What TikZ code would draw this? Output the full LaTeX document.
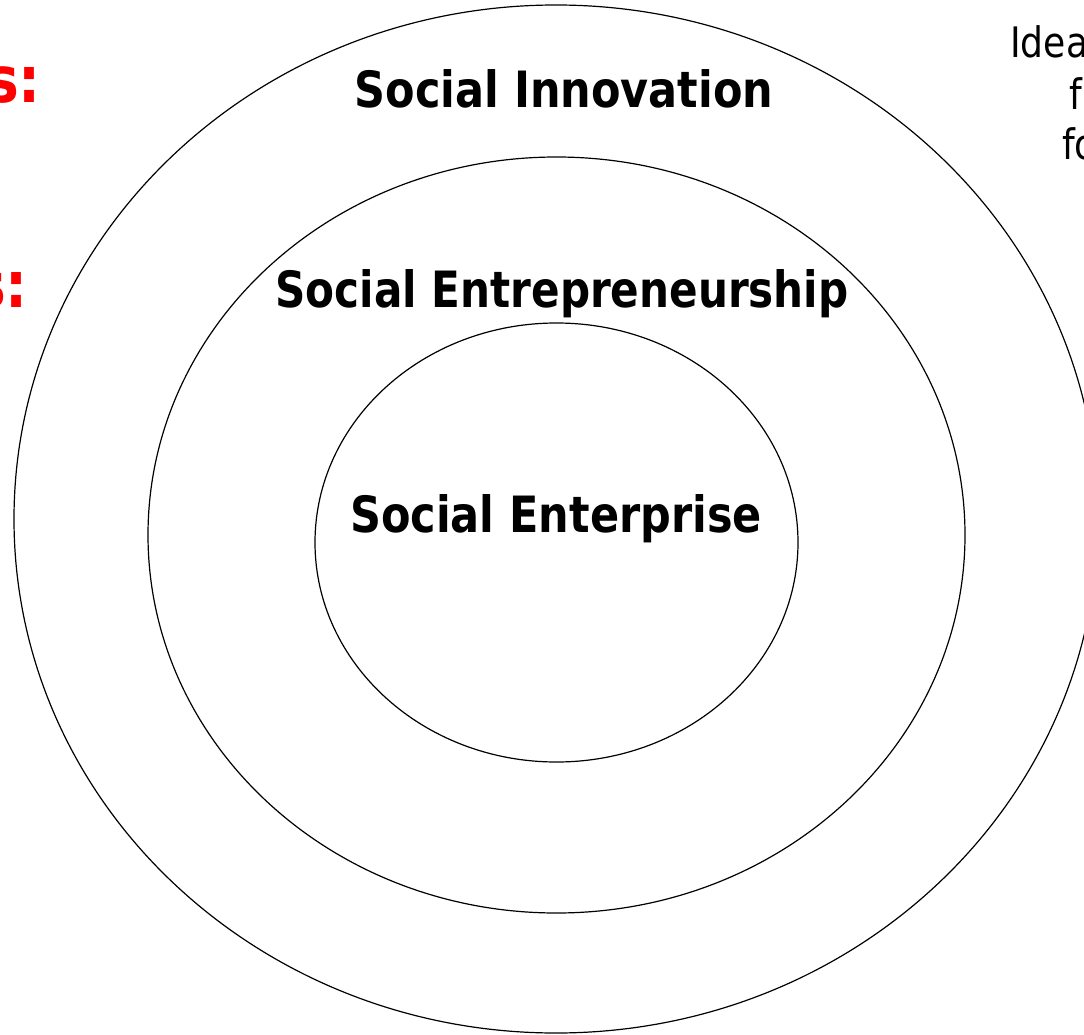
\documentclass[tikz,border=0pt]{standalone}
\usepackage{fontspec}
\setmainfont{DejaVu Sans}
\newfontfamily\lblfont[FakeStretch=0.86]{DejaVu Sans}
\definecolor{redtxt}{RGB}{255,0,0}
\tikzset{
  ring/.style={draw=black, line width=1.2pt},
  lbl/.style={font=\lblfont\bfseries\fontsize{50}{60}\selectfont, inner sep=0pt, anchor=base},
  redlbl/.style={font=\lblfont\bfseries\fontsize{64}{76}\selectfont, text=redtxt, inner sep=0pt, anchor=base east},
  sidetxt/.style={font=\lblfont\fontsize{42}{50}\selectfont, inner sep=0pt, anchor=base west}
}
\begin{document}
\begin{tikzpicture}[x=1pt,y=-1pt]
\useasboundingbox (0,0) rectangle (1084,1035);
\clip (0,0) rectangle (1084,1035);
\fill[white] (0,0) rectangle (1084,1035);
% rings
\draw[ring] (556,519) ellipse [x radius=542, y radius=514];
\draw[ring] (556.5,535) ellipse [x radius=408.5, y radius=378];
\draw[ring] (556.5,542.5) ellipse [x radius=241.5, y radius=219.5];
% labels
\node[lbl] (inno) at (564,108) {Social Innovation};
\node[lbl, xscale=0.98] (entr) at (562,307) {Social Entrepreneurship};
\node[lbl] (ente) at (556,532) {Social Enterprise};
% red cut-off labels
\node[redlbl] (r1) at (41,103) {s:};
\node[redlbl] (r2) at (28,307) {s:};
% right cut-off text
\node[sidetxt] (t1) at (1010,58) {Idea};
\node[sidetxt] (t2) at (1069,110) {f};
\node[sidetxt] (t3) at (1062,160) {fo};
\end{tikzpicture}
\end{document}
